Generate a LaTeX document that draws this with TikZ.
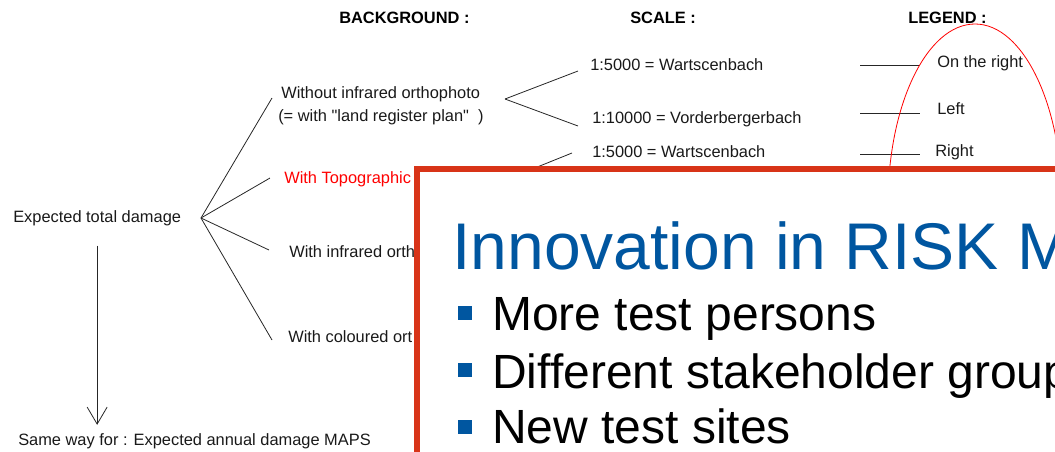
\documentclass[tikz,border=0pt]{standalone}
\usepackage{fontspec}
\setmainfont{Liberation Sans}
\usetikzlibrary{arrows.meta}
\definecolor{slidered}{RGB}{216,52,24}
\definecolor{slideblue}{RGB}{0,86,160}
\tikzset{smalltext/.style={inner sep=0pt, anchor=base west, text=black!90, font=\fontsize{12.3}{14}\selectfont}}
\tikzset{headtext/.style={inner sep=0pt, anchor=base west, font=\fontsize{12.3}{14}\selectfont\bfseries}}
\tikzset{branch/.style={draw=black!85, line width=0.6pt}}
\tikzset{slidebox/.style={draw=slidered, fill=white, line width=4.5pt}}
\tikzset{bulletbox/.style={rectangle, fill=slideblue, inner sep=0pt, minimum width=10pt, minimum height=10.5pt}}
\tikzset{bullettext/.style={inner sep=0pt, anchor=base west, font=\fontsize{36}{40}\selectfont}}

\begin{document}
\begin{tikzpicture}[x=0.75pt, y=-0.75pt]
    \useasboundingbox (0,0) rectangle (1055,451);

    % headings
    \node[headtext]    (bghead)     at (339,23)    {BACKGROUND :};
    \node[headtext]    (scalehead)  at (630,23)    {SCALE :};
    \node[headtext]    (legendhead) at (908,23)    {LEGEND :};

    % background branches
    \node[smalltext]   (total)      at (13,222)    {Expected total damage};
    \node[smalltext]   (noir)       at (281,98)    {Without infrared orthophoto};
    \node[smalltext]   (noirsub)    at (278,121)   {(= with \textquotedbl land register plan\textquotedbl\ \ )};
    \node[smalltext, text=red] (topo) at (284,183) {With Topographic};
    \node[smalltext]   (infra)      at (289,257)   {With infrared orth};
    \node[smalltext]   (colour)     at (288,342)   {With coloured ort};
    \node[smalltext]   (sameway)    at (18,445)    {Same way for : Expected annual damage MAPS};

    \coordinate (fan)     at (201,218);
    \coordinate (fannoir) at (272,98);
    \coordinate (fantopo) at (270,178);
    \coordinate (fanir)   at (269,250);
    \coordinate (fancol)  at (272,340);

    \draw[branch] (fan) -- (fannoir);
    \draw[branch] (fan) -- (fantopo);
    \draw[branch] (fan) -- (fanir);
    \draw[branch] (fan) -- (fancol);
    \draw[branch, -{Straight Barb[length=12.75pt, width=15pt]}, shorten <=15pt, shorten >=6pt]
        (total.south) -- (total.south |- sameway.north);

    % scales
    \node[smalltext]   (scaleA)     at (590,70)    {1:5000 = Wartscenbach};
    \node[smalltext]   (scaleB)     at (592,123)   {1:10000 = Vorderbergerbach};
    \node[smalltext]   (scaleC)     at (592,157)   {1:5000 = Wartscenbach};

    \coordinate (forkA)  at (505,99);
    \coordinate (forkAu) at (578,71);
    \coordinate (forkAl) at (578,126);
    \coordinate (forkB)  at (505,180);
    \coordinate (forkBu) at (572,153);

    \draw[branch] (forkA) -- (forkAu);
    \draw[branch] (forkA) -- (forkAl);
    \draw[branch] (forkB) -- (forkBu);

    % legend
    \node[smalltext]   (onright)    at (937,67)    {On the right};
    \node[smalltext]   (left)       at (937,114)   {Left};
    \node[smalltext]   (right)      at (935,156)   {Right};

    \coordinate (keyA) at (860,65);
    \coordinate (keyB) at (860,113);
    \coordinate (keyC) at (860,154);

    \draw[branch] (keyA) -- ++(60,0);
    \draw[branch] (keyB) -- ++(60,0);
    \draw[branch] (keyC) -- ++(60,0);
    \draw[red, line width=0.6pt] (975,204) ellipse [x radius=87, y radius=180];

    % slide on top
    \draw[slidebox] (417,169) rectangle (1120,530);
    \node[inner sep=0pt, anchor=base west, text=slideblue, font=\fontsize{49.5}{52}\selectfont]
        (title) at (452,269) {Innovation in RISK M};

    \node[bulletbox]   (bulA)       at (465,312.5) {};
    \node[bulletbox]   (bulB)       at (465,370)   {};
    \node[bulletbox]   (bulC)       at (465,427)   {};
    \node[bullettext]  (more)       at (492,330)   {More test persons};
    \node[bullettext]  (groups)     at (492,388)   {Different stakeholder group};
    \node[bullettext]  (sites)      at (492,443)   {New test sites};
\end{tikzpicture}
\end{document}
